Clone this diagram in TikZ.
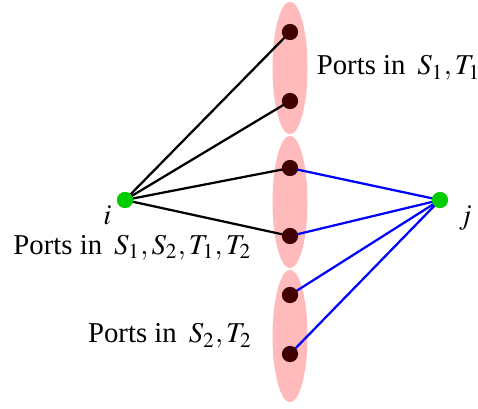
\documentclass[tikz,border=0pt]{standalone}
\usepackage{mathptmx}
\usepackage{fontspec}
\setmainfont{Liberation Serif}
\usepackage{tikz}
\usetikzlibrary{positioning,shapes.geometric}

\definecolor{portred}{RGB}{64,0,0}
\definecolor{nodegreen}{RGB}{0,204,0}
\definecolor{setpink}{RGB}{255,187,187}

\pgfdeclarelayer{links}
\pgfdeclarelayer{sets}
\pgfsetlayers{sets,links,main}

\begin{document}
\begin{tikzpicture}[
    x=0.4pt, y=0.4pt,
    font=\fontsize{11.5}{13}\selectfont,
    portset/.style={ellipse, fill=setpink, minimum width=14pt, minimum height=53pt, inner sep=0pt},
    port/.style={circle, fill=portred, minimum size=6.5pt, inner sep=0pt},
    terminal/.style={circle, fill=nodegreen, minimum size=6.5pt, inner sep=0pt},
    link/.style={line width=0.9pt},
    blink/.style={line width=0.9pt, blue},
]
\useasboundingbox (0,0) rectangle (478,408);

% Port sets
\begin{pgfonlayer}{sets}
\node[portset] (s1) at (290,340) {};
\node[portset] (s12) at (290,206) {};
\node[portset] (s2) at (290,72) {};
\end{pgfonlayer}

% Ports
\node[port] (p1) at (290,376) {};
\node[port] (p2) at (290,307) {};
\node[port] (p3) at (290,240) {};
\node[port] (p4) at (290,172) {};
\node[port] (p5) at (290,113) {};
\node[port] (p6) at (290,54) {};

% Terminals
\node[terminal] (i) at (125,208) {};
\node[terminal] (j) at (440,208) {};
\node[below left=-3.5pt and -0.5pt of i] (ilbl) {$i$};
\node[below right=-3.5pt and 1.5pt of j] (jlbl) {$j$};

% Labels
\node[right=0pt of s1] (l1) {Ports in\, $S_1,T_1$};
\node[below=7pt of i, xshift=3pt] (l12) {Ports in\, $S_1,S_2,T_1,T_2$};
\node[left=4.5pt of s2] (l2) {Ports in\, $S_2,T_2$};

% Links
\begin{pgfonlayer}{links}
\foreach \p in {p1,p2,p3,p4}
    \draw[link] (i.center) -- (\p.center);
\foreach \p in {p3,p4,p5,p6}
    \draw[blink] (j.center) -- (\p.center);
\end{pgfonlayer}

\end{tikzpicture}
\end{document}
